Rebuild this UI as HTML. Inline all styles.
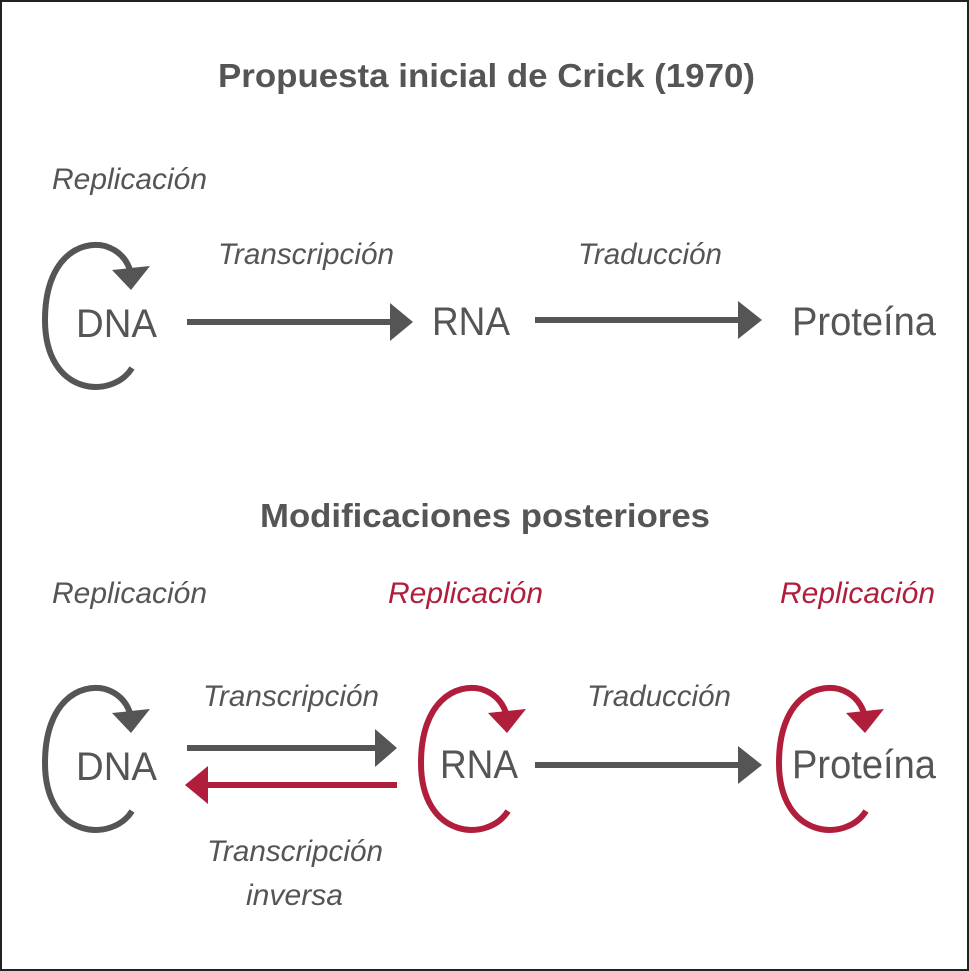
<!DOCTYPE html>
<html><head><style>
html,body{margin:0;padding:0;background:#fff;}
svg{display:block;}
text{font-family:"Liberation Sans",sans-serif;fill:#555;}
.t{font-weight:bold;font-size:33px;}
.l{font-style:italic;font-size:30px;}
.n{font-size:40px;}
.r{fill:#b01e3c;}
</style></head><body>
<svg width="969" height="971" viewBox="0 0 969 971" xmlns="http://www.w3.org/2000/svg">
<rect x="1" y="1" width="967" height="969" fill="#fff" stroke="#222" stroke-width="2"/>
<defs>
<g id="loop">
<path d="M132,368 C112,400 45,396 45,320 C45,258 80,240 105,246 C118,250 126,258 130,270" fill="none" stroke-width="6"/>
<polygon points="112,270 150,266 131,290" stroke="none"/>
</g>
</defs>
<text class="t" x="218" y="87" textLength="537" lengthAdjust="spacingAndGlyphs">Propuesta inicial de Crick (1970)</text>
<text class="l" x="52" y="189" textLength="155" lengthAdjust="spacingAndGlyphs">Replicación</text>
<text class="l" x="218" y="264" textLength="176" lengthAdjust="spacingAndGlyphs">Transcripción</text>
<text class="l" x="578" y="264" textLength="144" lengthAdjust="spacingAndGlyphs">Traducción</text>
<g stroke="#555" fill="#555"><use href="#loop"/></g>
<text class="n" x="76" y="337" textLength="81" lengthAdjust="spacingAndGlyphs">DNA</text>
<text class="n" x="432" y="335" textLength="78" lengthAdjust="spacingAndGlyphs">RNA</text>
<text class="n" x="792" y="335" textLength="144" lengthAdjust="spacingAndGlyphs">Proteína</text>
<rect x="187" y="319" width="205" height="6" fill="#555"/>
<polygon points="390,303 413,322 390,341" fill="#555"/>
<rect x="535" y="317" width="205" height="6" fill="#555"/>
<polygon points="738,301 762,320 738,339" fill="#555"/>

<text class="t" x="260" y="527" textLength="450" lengthAdjust="spacingAndGlyphs">Modificaciones posteriores</text>
<text class="l" x="52" y="603" textLength="155" lengthAdjust="spacingAndGlyphs">Replicación</text>
<text class="l r" x="388" y="603" textLength="155" lengthAdjust="spacingAndGlyphs">Replicación</text>
<text class="l r" x="780" y="603" textLength="155" lengthAdjust="spacingAndGlyphs">Replicación</text>
<g stroke="#555" fill="#555" transform="translate(0,443)"><use href="#loop"/></g>
<g stroke="#b01e3c" fill="#b01e3c" transform="translate(376,443)"><use href="#loop"/></g>
<g stroke="#b01e3c" fill="#b01e3c" transform="translate(734,443)"><use href="#loop"/></g>
<text class="l" x="203" y="706" textLength="176" lengthAdjust="spacingAndGlyphs">Transcripción</text>
<text class="l" x="587" y="706" textLength="144" lengthAdjust="spacingAndGlyphs">Traducción</text>
<text class="n" x="76" y="780" textLength="81" lengthAdjust="spacingAndGlyphs">DNA</text>
<text class="n" x="440" y="778" textLength="78" lengthAdjust="spacingAndGlyphs">RNA</text>
<text class="n" x="792" y="778" textLength="144" lengthAdjust="spacingAndGlyphs">Proteína</text>
<rect x="187" y="745" width="190" height="6" fill="#555"/>
<polygon points="375,729 397,748 375,767" fill="#555"/>
<rect x="207" y="782" width="190" height="6" fill="#b01e3c"/>
<polygon points="208,766 185,785 208,804" fill="#b01e3c"/>
<rect x="535" y="762" width="205" height="6" fill="#555"/>
<polygon points="738,746 762,765 738,784" fill="#555"/>
<text class="l" x="207" y="861" textLength="176" lengthAdjust="spacingAndGlyphs">Transcripción</text>
<text class="l" x="246" y="905" textLength="97" lengthAdjust="spacingAndGlyphs">inversa</text>
</svg>
</body></html>
